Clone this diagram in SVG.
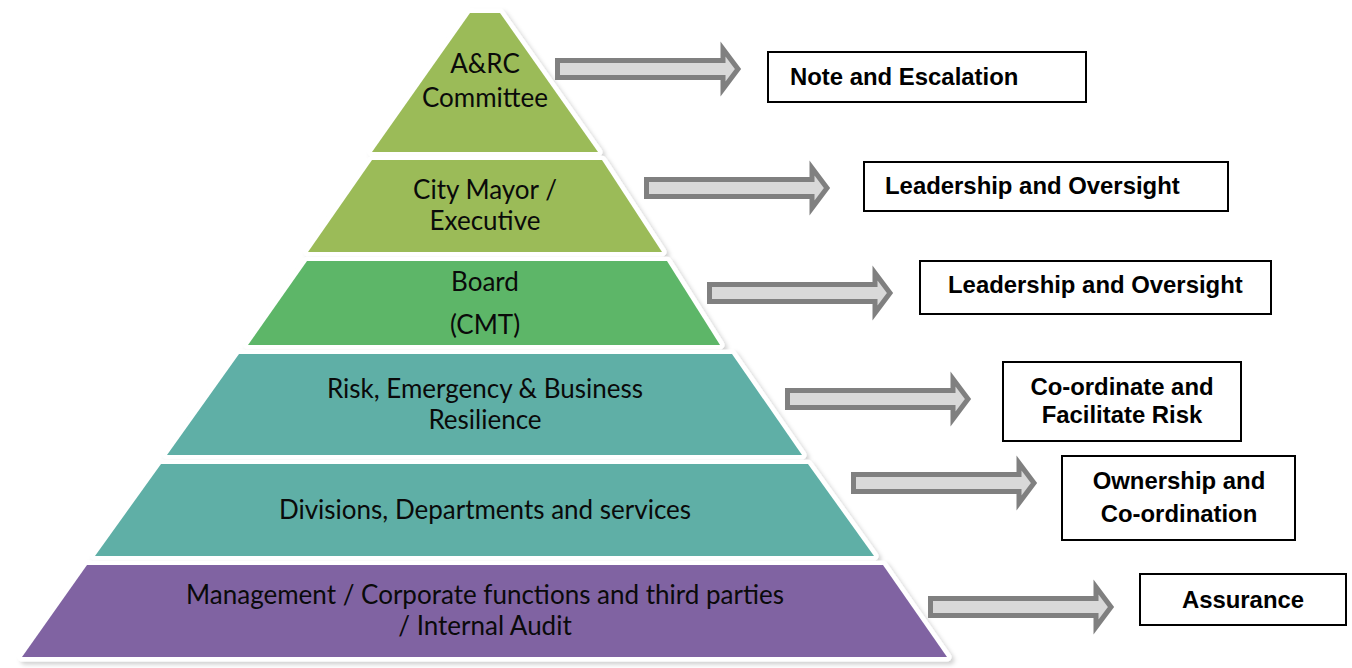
<svg xmlns="http://www.w3.org/2000/svg" xmlns:xlink="http://www.w3.org/1999/xlink" width="1352" height="668" viewBox="0 0 1352 668">
<style>
.layer{stroke:#ffffff;stroke-width:9;stroke-linejoin:round;paint-order:stroke;filter:url(#sh)}
.olive{fill:#9bbb59}
.green{fill:#5db668}
.teal{fill:#5eafa6}
.purple{fill:#8064a2}
.pt{font-family:Lato,"Noto Sans",sans-serif;font-size:26px;fill:#0a0a0a;text-anchor:middle}
.box{fill:#ffffff;stroke:#000000;stroke-width:2}
.bt{font-family:"Liberation Sans",Arial,sans-serif;font-weight:bold;font-size:23.9px;fill:#000}
.mid{text-anchor:middle}
.arr{fill:#d9d9d9;stroke:#808080;stroke-width:5;stroke-linejoin:miter}
</style>
<defs>
<filter id="sh" x="-10%" y="-10%" width="125%" height="130%">
<feDropShadow dx="3" dy="3" stdDeviation="2" flood-color="#000" flood-opacity="0.18"/>
</filter>
<path id="arrow" d="M2.5,-8.5 H168 V-20 L183,0 L168,20 V8.5 H2.5 Z"/>
</defs>

<g id="layer1">
<polygon class="layer olive" points="470,13 500,13 598,152 372,152"/>
<text class="pt" x="485" y="73">A&amp;RC</text>
<text class="pt" x="485" y="107">Committee</text>
</g>
<g id="layer2">
<polygon class="layer olive" points="372,160 602,160 662,252 308,252"/>
<text class="pt" x="485" y="199">City Mayor /</text>
<text class="pt" x="485" y="230">Executive</text>
</g>
<g id="layer3">
<polygon class="layer green" points="307,261 667,261 720,345 248,345"/>
<text class="pt" x="485" y="291">Board</text>
<text class="pt" x="485" y="334">(CMT)</text>
</g>
<g id="layer4">
<polygon class="layer teal" points="239,354 732,354 802,455 167,455"/>
<text class="pt" x="485" y="398">Risk, Emergency &amp; Business</text>
<text class="pt" x="485" y="429">Resilience</text>
</g>
<g id="layer5">
<polygon class="layer teal" points="161,464 808,464 874,556 95,556"/>
<text class="pt" x="485" y="519">Divisions, Departments and services</text>
</g>
<g id="layer6">
<polygon class="layer purple" points="87,565 883,565 947,657 22,657"/>
<text class="pt" x="485" y="604">Management / Corporate functions and third parties</text>
<text class="pt" x="485" y="635">/ Internal Audit</text>
</g>

<g id="connectors">
<use class="arr" xlink:href="#arrow" href="#arrow" x="555" y="69"/>
<use class="arr" xlink:href="#arrow" href="#arrow" x="644" y="188"/>
<use class="arr" xlink:href="#arrow" href="#arrow" x="707" y="293"/>
<use class="arr" xlink:href="#arrow" href="#arrow" x="785" y="399"/>
<use class="arr" xlink:href="#arrow" href="#arrow" x="851" y="483"/>
<use class="arr" xlink:href="#arrow" href="#arrow" x="928" y="607"/>
</g>

<g id="box1">
<rect class="box" x="768" y="52" width="318" height="50"/>
<text class="bt" x="790" y="85">Note and Escalation</text>
</g>
<g id="box2">
<rect class="box" x="864" y="162" width="364" height="49"/>
<text class="bt" x="885" y="194">Leadership and Oversight</text>
</g>
<g id="box3">
<rect class="box" x="920" y="261" width="351" height="53"/>
<text class="bt" x="948" y="293">Leadership and Oversight</text>
</g>
<g id="box4">
<rect class="box" x="1003" y="362" width="238" height="79"/>
<text class="bt mid" x="1122" y="395">Co-ordinate and</text>
<text class="bt mid" x="1122" y="423">Facilitate Risk</text>
</g>
<g id="box5">
<rect class="box" x="1062" y="456" width="233" height="84"/>
<text class="bt mid" x="1179" y="489">Ownership and</text>
<text class="bt mid" x="1179" y="522">Co-ordination</text>
</g>
<g id="box6">
<rect class="box" x="1140" y="574" width="206" height="51"/>
<text class="bt mid" x="1243" y="608">Assurance</text>
</g>
</svg>
